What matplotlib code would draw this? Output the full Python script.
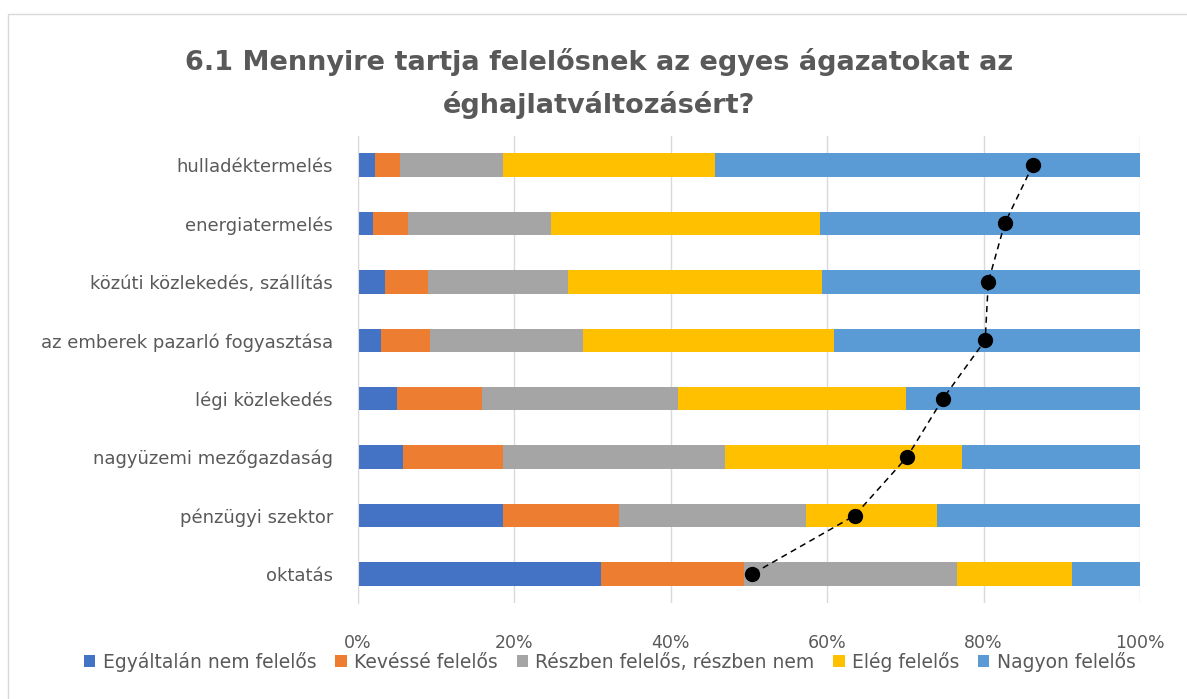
import matplotlib
matplotlib.use('Agg')
import matplotlib.pyplot as plt
from matplotlib.patches import Rectangle
import numpy as np

# # # # # # # # # # # # #    DATA    # # # # # # # # # # # # #

title = '6.1 Mennyire tartja felelősnek az egyes ágazatokat az\néghajlatváltozásért?'

categories = ['hulladéktermelés', 'energiatermelés', 'közúti közlekedés, szállítás',
              'az emberek pazarló fogyasztása', 'légi közlekedés',
              'nagyüzemi mezőgazdaság', 'pénzügyi szektor', 'oktatás']

series_names = ['Egyáltalán nem felelős', 'Kevéssé felelős',
                'Részben felelős, részben nem', 'Elég felelős', 'Nagyon felelős']

# share of answers (%), one list per answer
egyaltalan = [2.2, 1.9, 3.5, 3.0, 5.0, 5.7, 18.6, 31.1]
kevesse = [3.2, 4.5, 5.5, 6.2, 10.8, 12.8, 14.8, 18.2]
reszben = [13.1, 18.3, 17.8, 19.6, 25.1, 28.4, 23.9, 27.3]
eleg = [27.2, 34.4, 32.5, 32.1, 29.2, 30.3, 16.8, 14.7]
nagyon = [54.3, 40.9, 40.7, 39.1, 29.9, 22.8, 25.9, 8.7]

# mean score drawn as dots (%)
atlag = [86.3, 82.7, 80.6, 80.2, 74.8, 70.2, 63.5, 50.4]

colors = ['#4472C4', '#ED7D31', '#A5A5A5', '#FFC000', '#5B9BD5']
text_color = '#595959'

# # # # # # # # # # # # #    GRAPH    # # # # # # # # # # # # #

fig = plt.figure(figsize=(11.87, 6.99), dpi=100)
ax = fig.add_axes([358 / 1187, 0.137, 782 / 1187, 0.6687])

y = np.arange(len(categories))
left = np.zeros(len(categories))
for vals, name, c in zip([egyaltalan, kevesse, reszben, eleg, nagyon], series_names, colors):
    ax.barh(y, vals, left=left, height=0.4, color=c, label=name, zorder=2)
    left += np.array(vals)

ax.plot(atlag, y, color='black', linestyle='--', linewidth=1.1, dashes=(4, 3),
        marker='o', markersize=10, zorder=3)

ax.set_ylim(len(categories) - 0.5, -0.5)
ax.set_xlim(0, 100)
ax.set_yticks(y)
ax.set_yticklabels(categories, fontsize=13, color=text_color)
ax.set_xticks(range(0, 101, 20))
ax.set_xticklabels([f'{v}%' for v in range(0, 101, 20)], fontsize=12.5, color=text_color)
ax.tick_params(length=0, pad=18)
ax.tick_params(axis='x', pad=22)
ax.grid(axis='x', color='#D9D9D9', linewidth=1, zorder=0)
for s in ['top', 'right', 'bottom']:
    ax.spines[s].set_visible(False)
ax.spines['left'].set_color('#D9D9D9')

fig.text(0.505, 0.931, title, ha='center', va='top', fontsize=19.5, fontweight='bold',
         color=text_color, linespacing=1.65)

ax.legend(loc='center', bbox_to_anchor=(610 / 1187, 1 - 662 / 699), bbox_transform=fig.transFigure,
          ncol=5, frameon=False, fontsize=13.5, handlelength=0.6, handleheight=0.6,
          handletextpad=0.4, columnspacing=1.0, labelcolor=text_color)

# chart border
fig.patches.append(Rectangle((8 / 1187, -0.01), 1.0, 1 - 14 / 699 + 0.01, transform=fig.transFigure,
                             fill=False, edgecolor='#D9D9D9', linewidth=1))

fig.savefig('out.png', dpi=100)
